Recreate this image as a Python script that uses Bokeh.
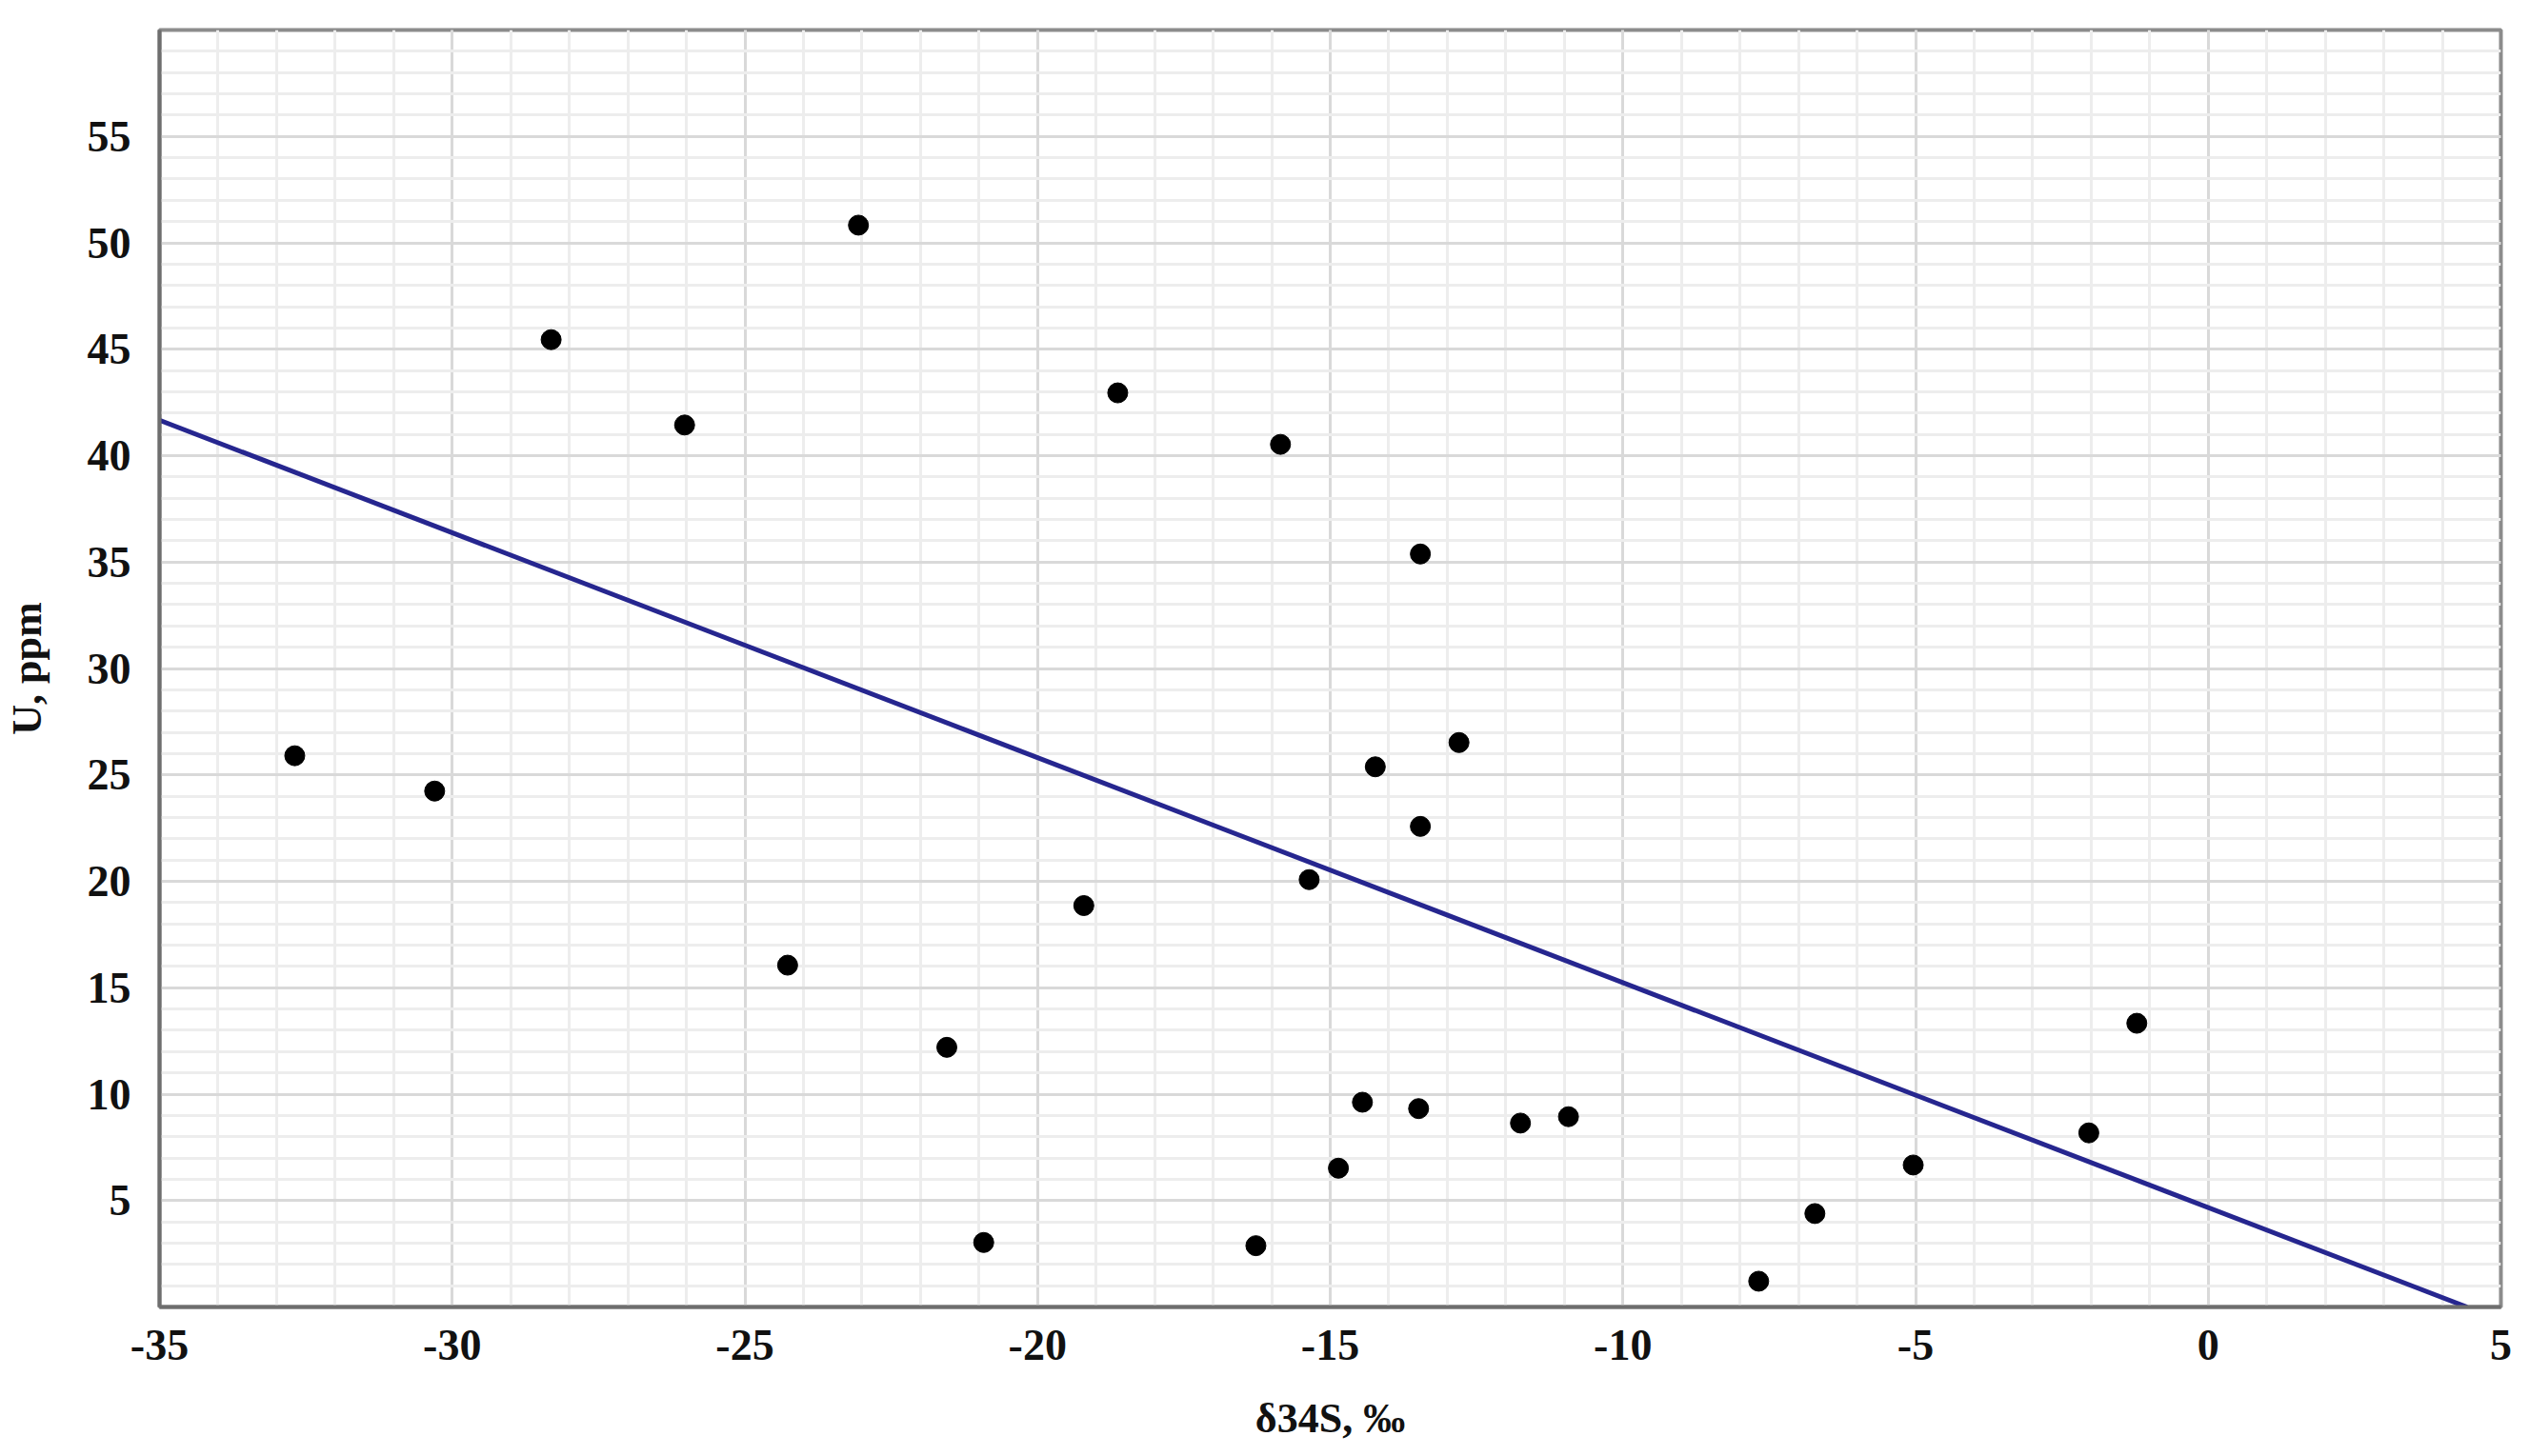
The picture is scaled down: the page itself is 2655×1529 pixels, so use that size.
from bokeh.plotting import figure
from bokeh.models import FixedTicker, Range1d, ColumnDataSource
from bokeh.embed import file_html
from bokeh.resources import INLINE

# --- data ---
d34s = [-32.69, -30.30, -28.31, -26.03, -24.27, -23.06, -21.55, -20.92, -19.21,
        -18.63, -16.27, -15.85, -15.36, -14.86, -14.45, -14.23, -13.46, -13.46,
        -13.49, -12.80, -11.75, -10.93, -7.68, -6.72, -5.04, -2.04, -1.22]
u_ppm = [25.9, 24.24, 45.45, 41.44, 16.06, 50.83, 12.2, 3.03, 18.86,
         42.95, 2.88, 40.53, 20.08, 6.52, 9.62, 25.38, 35.38, 22.58,
         9.32, 26.52, 8.64, 8.94, 1.21, 4.39, 6.67, 8.18, 13.33]

# trend line
trend_slope = -1.057
trend_intercept = 4.67
trend_x = [-35.0, 4.42]

x_ticks = [-35, -30, -25, -20, -15, -10, -5, 0, 5]
y_ticks = [5, 10, 15, 20, 25, 30, 35, 40, 45, 50, 55]
x_label = "δ34S, ‰"
y_label = "U, ppm"

trend_y = [trend_slope * x + trend_intercept for x in trend_x]

p = figure(width=2640, height=1513, output_backend="svg", toolbar_location=None,
           x_range=Range1d(-35, 5), y_range=Range1d(0, 60),
           min_border_left=158, min_border_right=20, min_border_top=31,
           min_border_bottom=141)
p.frame_width = 2458
p.frame_height = 1341

p.background_fill_color = "white"
p.outline_line_color = "#8c8c8c"
p.outline_line_width = 4

p.xaxis.ticker = FixedTicker(ticks=x_ticks, minor_ticks=list(range(-35, 6)))
p.yaxis.ticker = FixedTicker(ticks=y_ticks, minor_ticks=list(range(0, 61)))
p.xaxis.major_label_overrides = {t: str(t) for t in x_ticks}
p.yaxis.major_label_overrides = {t: str(t) for t in y_ticks}

for ax in (p.xaxis, p.yaxis):
    ax.axis_line_color = "#6e6e6e"
    ax.axis_line_width = 4
    ax.major_tick_line_color = None
    ax.minor_tick_line_color = None
    ax.major_label_text_font = "Liberation Serif"
    ax.major_label_text_font_style = "bold"
    ax.major_label_text_font_size = "46px"
    ax.major_label_text_color = "#111111"
    ax.axis_label_text_font = "Liberation Serif"
    ax.axis_label_text_font_style = "bold"
    ax.axis_label_text_font_size = "44px"
    ax.axis_label_text_color = "#111111"

p.xaxis.axis_label = x_label
p.yaxis.axis_label = y_label
p.xaxis.major_label_standoff = 18
p.yaxis.major_label_standoff = 24
p.xaxis.axis_label_standoff = 34
p.yaxis.axis_label_standoff = 36

for g in (p.xgrid, p.ygrid):
    g.grid_line_color = "#d9d9d9"
    g.grid_line_width = 3
    g.minor_grid_line_color = "#ededed"
    g.minor_grid_line_width = 3

p.line(trend_x, trend_y, line_color="#26268f", line_width=5)

src = ColumnDataSource(dict(x=d34s, y=u_ppm))
p.scatter("x", "y", source=src, size=21, fill_color="black", line_color="black")

open("out.html", "w").write(file_html(p, INLINE))
